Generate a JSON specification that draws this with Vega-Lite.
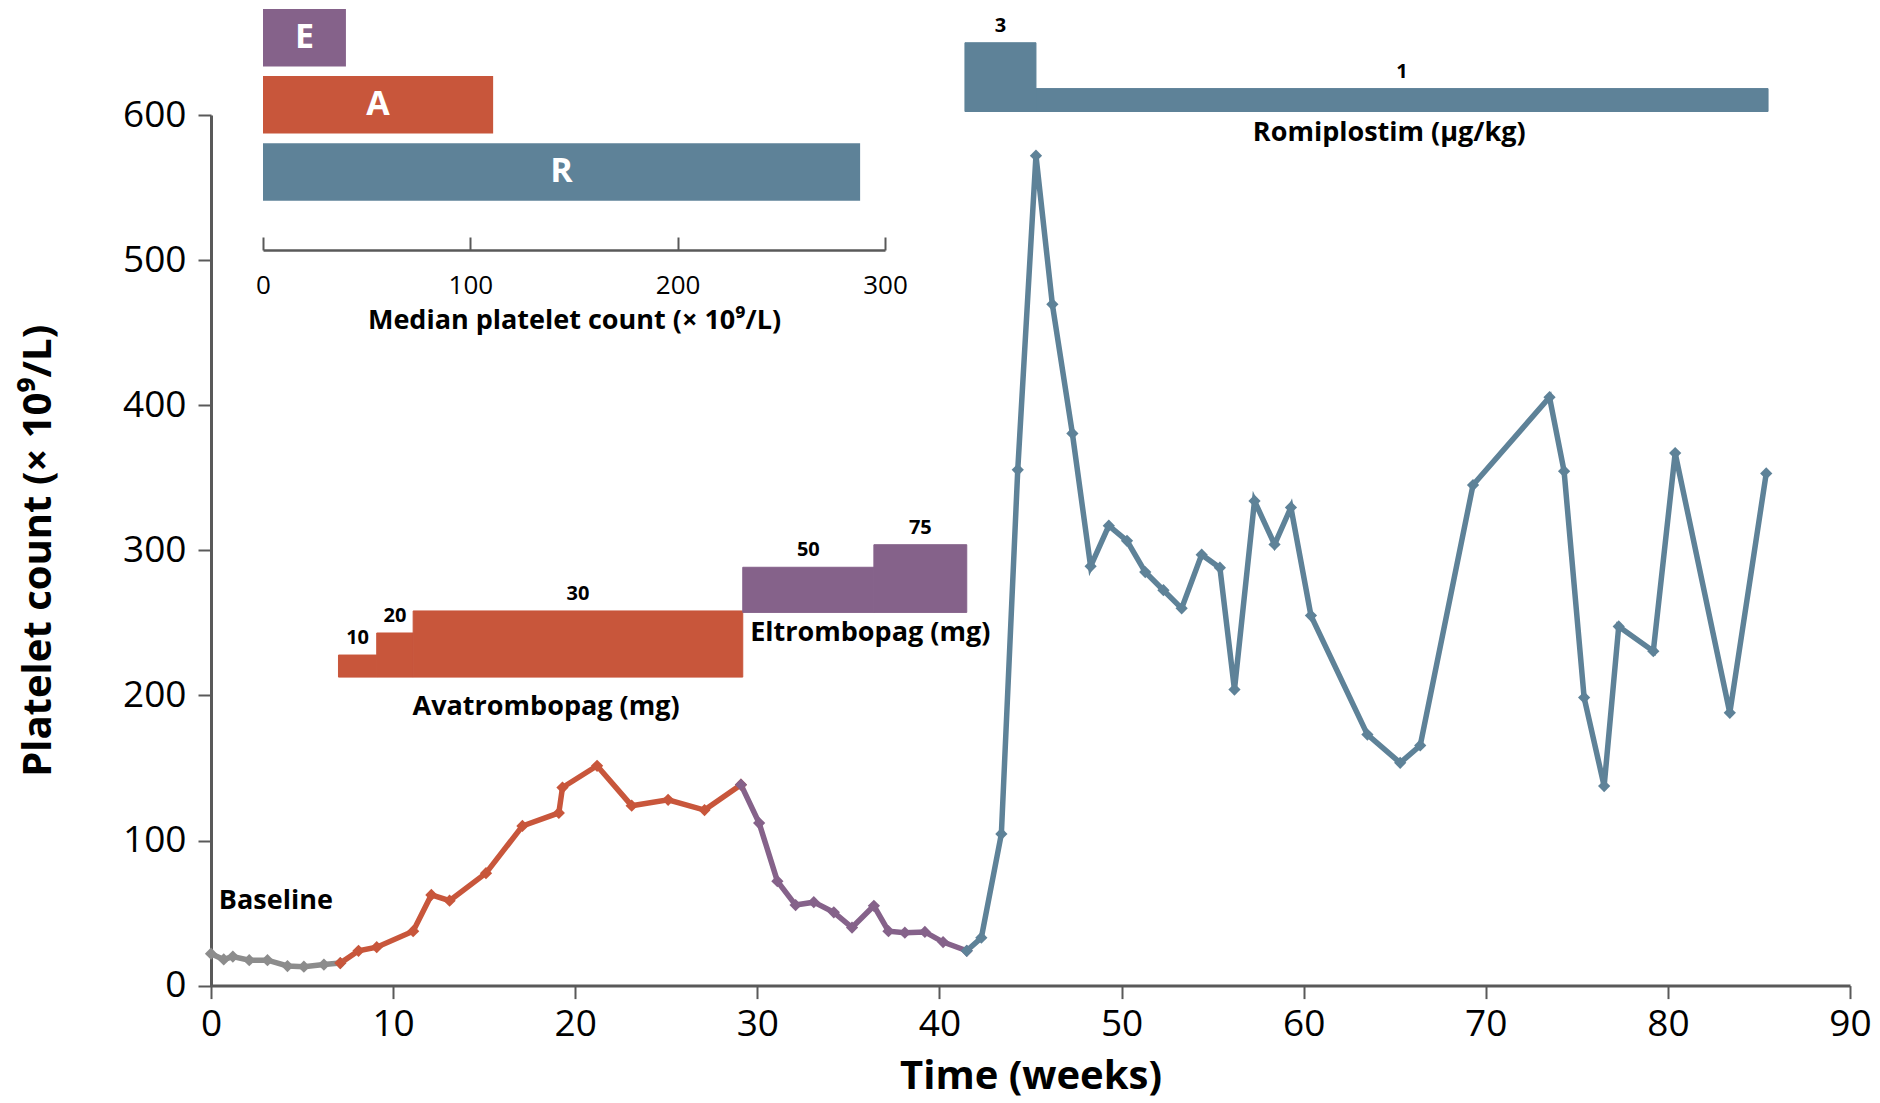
{
  "$schema": "https://vega.github.io/schema/vega-lite/v6.json",
  "autosize": {"type": "none"},
  "width": 1639,
  "height": 870.6,
  "padding": {"left": 211, "top": 115, "right": 30, "bottom": 117.4},
  "background": "white",
  "config": {
    "view": {"stroke": null},
    "font": "Open Sans",
    "axis": {"grid": false, "labelFont": "Open Sans", "titleFont": "Open Sans", "labelColor": "#000000", "titleColor": "#000000", "domainColor": "#595959", "tickColor": "#595959"},
    "text": {"font": "Open Sans"}
  },
  "datasets": {
    "counts": [
      {"week": 0.0, "count": 22, "phase": "Baseline"},
      {"week": 0.7, "count": 18, "phase": "Baseline"},
      {"week": 1.2, "count": 20, "phase": "Baseline"},
      {"week": 2.1, "count": 17.5, "phase": "Baseline"},
      {"week": 3.1, "count": 17.5, "phase": "Baseline"},
      {"week": 4.2, "count": 13.5, "phase": "Baseline"},
      {"week": 5.1, "count": 13, "phase": "Baseline"},
      {"week": 6.2, "count": 14.5, "phase": "Baseline"},
      {"week": 7.1, "count": 15.5, "phase": "Baseline"},
      {"week": 7.1, "count": 15.5, "phase": "Avatrombopag"},
      {"week": 8.1, "count": 24, "phase": "Avatrombopag"},
      {"week": 9.1, "count": 26.5, "phase": "Avatrombopag"},
      {"week": 11.1, "count": 37.5, "phase": "Avatrombopag"},
      {"week": 12.1, "count": 62.5, "phase": "Avatrombopag"},
      {"week": 13.1, "count": 58.5, "phase": "Avatrombopag"},
      {"week": 15.1, "count": 77.5, "phase": "Avatrombopag"},
      {"week": 17.1, "count": 110, "phase": "Avatrombopag"},
      {"week": 19.1, "count": 119, "phase": "Avatrombopag"},
      {"week": 19.3, "count": 136.5, "phase": "Avatrombopag"},
      {"week": 21.2, "count": 151.5, "phase": "Avatrombopag"},
      {"week": 23.1, "count": 124, "phase": "Avatrombopag"},
      {"week": 25.1, "count": 128, "phase": "Avatrombopag"},
      {"week": 27.1, "count": 121, "phase": "Avatrombopag"},
      {"week": 29.1, "count": 138.5, "phase": "Avatrombopag"},
      {"week": 29.1, "count": 138.5, "phase": "Eltrombopag"},
      {"week": 30.1, "count": 112, "phase": "Eltrombopag"},
      {"week": 31.1, "count": 72, "phase": "Eltrombopag"},
      {"week": 32.1, "count": 55.5, "phase": "Eltrombopag"},
      {"week": 33.1, "count": 57.5, "phase": "Eltrombopag"},
      {"week": 34.2, "count": 50.5, "phase": "Eltrombopag"},
      {"week": 35.2, "count": 40, "phase": "Eltrombopag"},
      {"week": 36.4, "count": 55, "phase": "Eltrombopag"},
      {"week": 37.2, "count": 37.5, "phase": "Eltrombopag"},
      {"week": 38.1, "count": 36.5, "phase": "Eltrombopag"},
      {"week": 39.2, "count": 37, "phase": "Eltrombopag"},
      {"week": 40.2, "count": 30, "phase": "Eltrombopag"},
      {"week": 41.5, "count": 24, "phase": "Eltrombopag"},
      {"week": 41.5, "count": 24, "phase": "Romiplostim"},
      {"week": 42.3, "count": 33, "phase": "Romiplostim"},
      {"week": 43.4, "count": 104.5, "phase": "Romiplostim"},
      {"week": 44.3, "count": 355.5, "phase": "Romiplostim"},
      {"week": 45.3, "count": 572, "phase": "Romiplostim"},
      {"week": 46.2, "count": 469.5, "phase": "Romiplostim"},
      {"week": 47.3, "count": 380.5, "phase": "Romiplostim"},
      {"week": 48.3, "count": 289, "phase": "Romiplostim"},
      {"week": 49.3, "count": 317, "phase": "Romiplostim"},
      {"week": 50.3, "count": 306.5, "phase": "Romiplostim"},
      {"week": 51.3, "count": 285, "phase": "Romiplostim"},
      {"week": 52.3, "count": 272.5, "phase": "Romiplostim"},
      {"week": 53.3, "count": 260, "phase": "Romiplostim"},
      {"week": 54.4, "count": 297, "phase": "Romiplostim"},
      {"week": 55.4, "count": 288, "phase": "Romiplostim"},
      {"week": 56.2, "count": 204, "phase": "Romiplostim"},
      {"week": 57.3, "count": 334, "phase": "Romiplostim"},
      {"week": 58.4, "count": 304, "phase": "Romiplostim"},
      {"week": 59.3, "count": 329.5, "phase": "Romiplostim"},
      {"week": 60.4, "count": 255, "phase": "Romiplostim"},
      {"week": 63.5, "count": 173, "phase": "Romiplostim"},
      {"week": 65.3, "count": 153.5, "phase": "Romiplostim"},
      {"week": 66.4, "count": 165.5, "phase": "Romiplostim"},
      {"week": 69.3, "count": 345, "phase": "Romiplostim"},
      {"week": 73.5, "count": 405.5, "phase": "Romiplostim"},
      {"week": 74.3, "count": 354.5, "phase": "Romiplostim"},
      {"week": 75.4, "count": 198.5, "phase": "Romiplostim"},
      {"week": 76.5, "count": 137.5, "phase": "Romiplostim"},
      {"week": 77.3, "count": 247.5, "phase": "Romiplostim"},
      {"week": 79.2, "count": 230.5, "phase": "Romiplostim"},
      {"week": 80.4, "count": 367, "phase": "Romiplostim"},
      {"week": 83.4, "count": 188, "phase": "Romiplostim"},
      {"week": 85.4, "count": 353, "phase": "Romiplostim"}
    ],
    "doses": [
      {"drug": "Avatrombopag", "start": 7.0, "end": 9.1, "dose": 10},
      {"drug": "Avatrombopag", "start": 9.1, "end": 11.1, "dose": 20},
      {"drug": "Avatrombopag", "start": 11.1, "end": 29.2, "dose": 30},
      {"drug": "Eltrombopag", "start": 29.2, "end": 36.4, "dose": 50},
      {"drug": "Eltrombopag", "start": 36.4, "end": 41.5, "dose": 75},
      {"drug": "Romiplostim", "start": 41.4, "end": 45.3, "dose": 3},
      {"drug": "Romiplostim", "start": 45.3, "end": 85.5, "dose": 1}
    ],
    "notes": [
      {"note": "Baseline", "week": 3.56, "count": 58.6},
      {"note": "Avatrombopag (mg)", "week": 18.4, "count": 192},
      {"note": "Eltrombopag (mg)", "week": 36.2, "count": 243},
      {"note": "Romiplostim (µg/kg)", "week": 64.7, "count": 587.5}
    ],
    "medians": [
      {"drug": "Eltrombopag", "abbr": "E", "median": 40},
      {"drug": "Avatrombopag", "abbr": "A", "median": 111},
      {"drug": "Romiplostim", "abbr": "R", "median": 288}
    ]
  },
  "layer": [
    {
      "layer": [
        {
          "data": {"name": "counts"},
          "layer": [
            {
              "mark": {"type": "line", "strokeWidth": 5.5},
              "encoding": {
                "x": {"field": "week", "type": "quantitative", "scale": {"domain": [0, 90], "nice": false},
                  "axis": {"values": [0, 10, 20, 30, 40, 50, 60, 70, 80, 90], "title": "Time (weeks)", "labelFontSize": 37, "titleFontSize": 40, "titleFontWeight": "bold", "tickSize": 13, "tickWidth": 2, "domainWidth": 3, "labelPadding": 8, "titlePadding": 14, "labelFlush": false}},
                "y": {"field": "count", "type": "quantitative", "scale": {"domain": [0, 600], "nice": false},
                  "axis": {"values": [0, 100, 200, 300, 400, 500, 600], "title": "Platelet count (× 10⁹/L)", "labelFontSize": 37, "titleFontSize": 40, "titleFontWeight": "bold", "tickSize": 13, "tickWidth": 2, "domainWidth": 3, "labelPadding": 12, "titlePadding": 64}},
                "color": {"field": "phase", "type": "nominal", "legend": null,
                  "scale": {"domain": ["Baseline", "Avatrombopag", "Eltrombopag", "Romiplostim"], "range": ["#8C8C8C", "#C8563B", "#85628A", "#5E8298"]}}
              }
            },
            {
              "mark": {"type": "point", "shape": "diamond", "filled": true, "size": 150, "opacity": 1},
              "encoding": {
                "x": {"field": "week", "type": "quantitative"},
                "y": {"field": "count", "type": "quantitative"},
                "color": {"field": "phase", "type": "nominal", "legend": null}
              }
            },
            {
              "data": {"name": "notes"},
              "mark": {"type": "text", "fontSize": 27, "fontWeight": "bold", "color": "#000000", "align": "center", "baseline": "middle"},
              "encoding": {
                "x": {"field": "week", "type": "quantitative"},
                "y": {"field": "count", "type": "quantitative"},
                "text": {"field": "note"}
              }
            }
          ]
        },
        {
          "data": {"name": "doses"},
          "transform": [{"filter": "datum.drug === 'Avatrombopag'"}, {"calculate": "(datum.start + datum.end) / 2", "as": "mid"}],
          "layer": [
            {
              "mark": {"type": "rect", "strokeWidth": 1},
              "encoding": {
                "x": {"field": "start", "type": "quantitative"},
                "x2": {"field": "end"},
                "y": {"field": "dose", "type": "quantitative", "scale": {"domain": [-139.9, 254.9], "nice": false, "zero": false}, "axis": null},
                "y2": {"datum": 0},
                "color": {"field": "drug", "type": "nominal", "legend": null},
                "stroke": {"field": "drug", "type": "nominal", "legend": null, "scale": {"domain": ["Baseline", "Avatrombopag", "Eltrombopag", "Romiplostim"], "range": ["#8C8C8C", "#C8563B", "#85628A", "#5E8298"]}}
              }
            },
            {
              "mark": {"type": "text", "fontSize": 20, "fontWeight": "bold", "color": "#000000", "baseline": "alphabetic", "dy": -11},
              "encoding": {
                "x": {"field": "mid", "type": "quantitative"},
                "y": {"field": "dose", "type": "quantitative"},
                "text": {"field": "dose", "type": "quantitative"}
              }
            }
          ]
        },
        {
          "data": {"name": "doses"},
          "transform": [{"filter": "datum.drug === 'Eltrombopag'"}, {"calculate": "(datum.start + datum.end) / 2", "as": "mid"}],
          "layer": [
            {
              "mark": {"type": "rect", "strokeWidth": 1},
              "encoding": {
                "x": {"field": "start", "type": "quantitative"},
                "x2": {"field": "end"},
                "y": {"field": "dose", "type": "quantitative", "scale": {"domain": [-413.5, 551.1], "nice": false, "zero": false}, "axis": null},
                "y2": {"datum": 0},
                "color": {"field": "drug", "type": "nominal", "legend": null},
                "stroke": {"field": "drug", "type": "nominal", "legend": null}
              }
            },
            {
              "mark": {"type": "text", "fontSize": 20, "fontWeight": "bold", "color": "#000000", "baseline": "alphabetic", "dy": -11},
              "encoding": {
                "x": {"field": "mid", "type": "quantitative"},
                "y": {"field": "dose", "type": "quantitative"},
                "text": {"field": "dose", "type": "quantitative"}
              }
            }
          ]
        },
        {
          "data": {"name": "doses"},
          "transform": [{"filter": "datum.drug === 'Romiplostim'"}, {"calculate": "(datum.start + datum.end) / 2", "as": "mid"}],
          "layer": [
            {
              "mark": {"type": "rect", "strokeWidth": 1},
              "encoding": {
                "x": {"field": "start", "type": "quantitative"},
                "x2": {"field": "end"},
                "y": {"field": "dose", "type": "quantitative", "scale": {"domain": [-38.13, -0.152], "nice": false, "zero": false}, "axis": null},
                "y2": {"datum": 0},
                "color": {"field": "drug", "type": "nominal", "legend": null},
                "stroke": {"field": "drug", "type": "nominal", "legend": null}
              }
            },
            {
              "mark": {"type": "text", "fontSize": 20, "fontWeight": "bold", "color": "#000000", "baseline": "alphabetic", "dy": -11},
              "encoding": {
                "x": {"field": "mid", "type": "quantitative"},
                "y": {"field": "dose", "type": "quantitative"},
                "text": {"field": "dose", "type": "quantitative"}
              }
            }
          ]
        }
      ],
      "resolve": {"scale": {"y": "independent"}}
    },
    {
      "data": {"name": "medians"},
      "transform": [{"calculate": "datum.median / 2", "as": "half"}],
      "layer": [
        {
          "mark": {"type": "bar"},
          "encoding": {
            "x": {"field": "median", "type": "quantitative",
              "scale": {"domain": [0, 300], "range": [52, 674], "nice": false, "zero": true},
              "axis": {"orient": "bottom", "offset": -735.6, "values": [0, 100, 200, 300], "title": "Median platelet count (× 10⁹/L)", "labelFontSize": 26, "titleFontSize": 27, "titleFontWeight": "bold", "tickSize": -13, "tickWidth": 2, "domainWidth": 2.5, "labelPadding": 35, "titlePadding": 9, "labelFlush": false}},
            "y": {"field": "drug", "type": "nominal",
              "scale": {"domain": ["Eltrombopag", "Avatrombopag", "Romiplostim"], "range": [-106, 85.7], "paddingInner": 0.143, "paddingOuter": 0},
              "axis": null},
            "color": {"field": "drug", "type": "nominal", "legend": null}
          }
        },
        {
          "mark": {"type": "text", "fontSize": 34, "fontWeight": "bold", "color": "#FFFFFF", "align": "center", "baseline": "middle"},
          "encoding": {
            "x": {"field": "half", "type": "quantitative"},
            "y": {"field": "drug", "type": "nominal"},
            "text": {"field": "abbr"}
          }
        }
      ]
    }
  ],
  "resolve": {"scale": {"x": "independent", "y": "independent"}}
}
